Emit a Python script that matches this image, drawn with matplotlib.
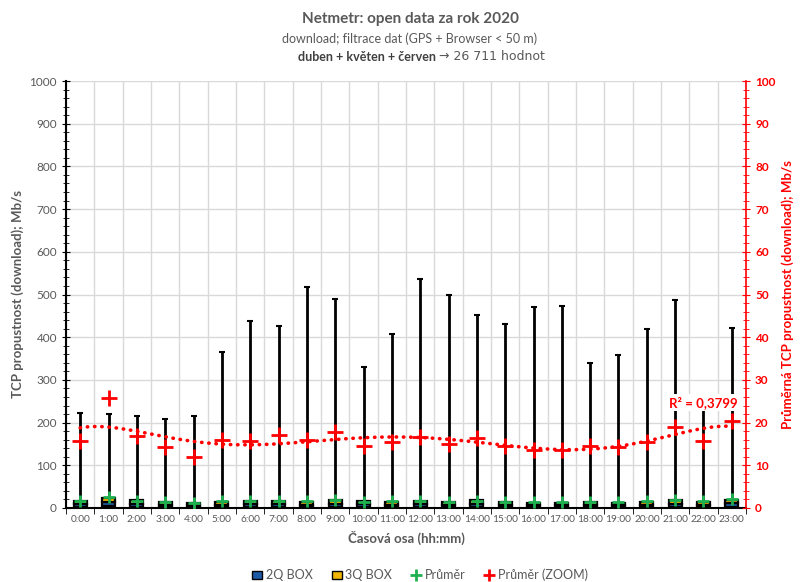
import numpy as np
from matplotlib import pyplot as plt
from matplotlib.patches import Patch
from matplotlib.lines import Line2D

plt.rcParams['font.family'] = ['Lato', 'DejaVu Sans']

hours = ['%d:00' % h for h in range(24)]

# box data (Mb/s)
q1 = [3, 4, 3, 2, 2, 3, 3, 3, 3, 3, 3, 3, 3, 3, 3, 2, 2, 2, 2, 2, 2, 3, 3, 3]
med = [9, 13, 10, 7, 6, 8, 9, 9, 8, 10, 9, 8, 9, 8, 10, 7, 6, 6, 7, 7, 7, 10, 8, 11]
q3 = [17, 24, 18, 13, 11, 15, 17, 17, 15, 18, 16, 14, 16, 15, 18, 13, 11, 11, 13, 12, 13, 18, 15, 19]
maxi = [222, 221, 216, 209, 216, 365, 438, 427, 517, 490, 330, 407,
        536, 498, 451, 430, 470, 474, 340, 358, 419, 486, 255, 421]

# mean values (Mb/s)
mean = [15.8, 25.7, 16.8, 14.4, 11.9, 16.0, 15.8, 17.0, 15.9, 17.8, 14.6, 15.5,
        16.6, 15.1, 16.5, 14.6, 13.6, 13.7, 14.6, 14.4, 15.5, 19.0, 15.6, 20.4]

x = np.arange(len(hours))
blue = '#1f5aa6'
gold = '#f2b705'
green = '#1fb050'
red = '#ff0000'
gray = '#595959'

fig = plt.figure(figsize=(8.07, 5.82), dpi=100)
ax = fig.add_axes([66/807, 1-508/582, 680/807, 427/582])
ax2 = ax.twinx()

# whiskers
ax.vlines(x, 0, q1, color='black', lw=2, zorder=2)
ax.errorbar(x, q3, yerr=[np.zeros(24), np.array(maxi) - np.array(q3)], fmt='none',
            ecolor='black', elinewidth=2, capsize=2.5, capthick=1.5, zorder=2)

# boxes
w = 0.46
ax.bar(x, np.array(med) - np.array(q1), bottom=q1, width=w, color=blue,
       edgecolor='black', lw=1.6, zorder=3)
ax.bar(x, np.array(q3) - np.array(med), bottom=med, width=w, color=gold,
       edgecolor='black', lw=1.6, zorder=3)
ax.plot(x, mean, '+', color=green, ms=9, mew=2, zorder=4)

# zoomed mean + polynomial trend
coef = np.polyfit(x + 1, mean, 6)
xs = np.linspace(0, 23, 200)
ax2.plot(xs, np.polyval(coef, xs + 1), color=red, lw=2.6, ls=(0, (0.1, 1.9)),
         dash_capstyle='round', zorder=3)
ax2.plot(x, mean, '+', color=red, ms=11, mew=2, zorder=4)
ax2.text(22, 24.7, 'R² = 0,3799', color=red, fontsize=9.5, fontweight='bold',
         ha='center', va='center', zorder=5,
         bbox=dict(facecolor='white', edgecolor='none', pad=1.5))

ax.set_xlim(-0.5, 23.5)
ax.set_ylim(0, 1000)
ax2.set_ylim(0, 100)

ax.set_yticks(np.arange(0, 1001, 100))
ax.set_yticks(np.arange(0, 1001, 20), minor=True)
ax2.set_yticks(np.arange(0, 101, 10))
ax2.set_yticks(np.arange(0, 101, 2), minor=True)
ax.set_xticks(x)
ax.set_xticklabels(hours)
ax.set_xticks(np.arange(-0.5, 24, 1), minor=True)

ax2.grid(False)
ax.grid(True, which='major', axis='y', color='#d9d9d9', lw=1)
ax.grid(True, which='minor', axis='x', color='#d9d9d9', lw=1)
ax.set_axisbelow(True)

ax.tick_params(axis='x', which='major', length=0, labelsize=7.3, labelcolor=gray, pad=5)
ax.tick_params(axis='x', which='minor', length=4, direction='out', color='black')
ax.tick_params(axis='y', which='both', direction='inout', color='black', labelsize=8.5,
               labelcolor=gray)
ax.tick_params(axis='y', which='major', length=6)
ax.tick_params(axis='y', which='minor', length=4)
ax2.tick_params(axis='y', which='both', direction='inout', color=red, labelcolor=red,
                labelsize=8.5)
ax2.tick_params(axis='y', which='major', length=6)
ax2.tick_params(axis='y', which='minor', length=4)
for t in ax2.get_yticklabels():
    t.set_fontweight('bold')

ax.spines['top'].set_visible(False)
ax2.spines['top'].set_visible(False)
ax.spines['right'].set_visible(False)
ax2.spines['left'].set_visible(False)
ax2.spines['bottom'].set_visible(False)
ax.spines['left'].set_linewidth(1.5)
ax.spines['bottom'].set_linewidth(1.5)
ax2.spines['right'].set_color(red)
ax2.spines['right'].set_linewidth(1.2)

ax.set_xlabel('Časová osa (hh:mm)', fontsize=9.5, fontweight='bold', color=gray, labelpad=5)
ax.set_ylabel('TCP propustnost (download); Mb/s', fontsize=9.5, fontweight='bold', color=gray)
ax2.set_ylabel('Průměrná TCP propustnost (download); Mb/s', fontsize=9.5, fontweight='bold',
               color=red)

# titles
fig.text(410/807, 1-19/582, 'Netmetr: open data za rok 2020', fontsize=11, fontweight='bold',
         color=gray, ha='center', va='center')
fig.text(410/807, 1-39/582, 'download; filtrace dat (GPS + Browser < 50 m)', fontsize=9,
         color=gray, ha='center', va='center')
fig.text(436/807, 1-57/582, 'duben + květen + červen', fontsize=9, fontweight='bold',
         color='#404040', ha='right', va='center')
fig.text(439/807, 1-57/582, '→ 26 711 hodnot', fontsize=9,
         color=gray, ha='left', va='center', family=['DejaVu Sans'])

handles = [Patch(facecolor=blue, edgecolor='black', label='2Q BOX'),
           Patch(facecolor=gold, edgecolor='black', label='3Q BOX'),
           Line2D([], [], ls='none', marker='+', color=green, ms=9, mew=2, label='Průměr'),
           Line2D([], [], ls='none', marker='+', color=red, ms=9, mew=2, label='Průměr (ZOOM)')]
leg = fig.legend(handles=handles, loc='center', bbox_to_anchor=(420/807, 1-575/582), ncol=4,
                 frameon=False, fontsize=9, handlelength=0.8, handletextpad=0.3,
                 columnspacing=1.5)
for t in leg.get_texts():
    t.set_color(gray)

fig.savefig('out.png')
